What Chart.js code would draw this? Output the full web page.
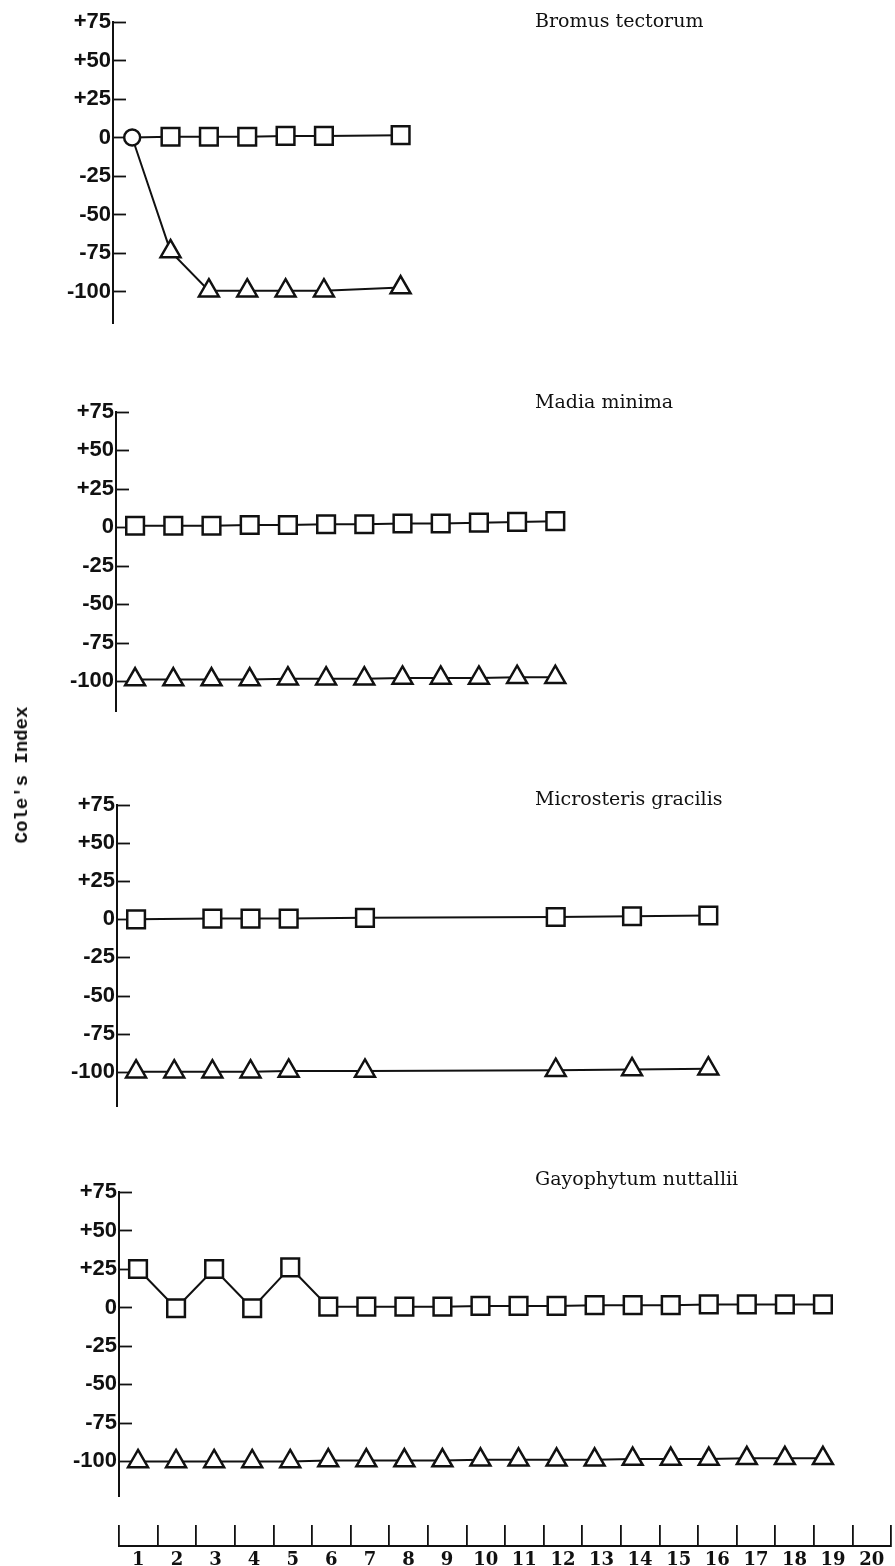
<!DOCTYPE html>
<html>
<head>
<meta charset="utf-8">
<title>Cole's Index</title>
<script src="https://cdn.jsdelivr.net/npm/chart.js@4.4.1/dist/chart.umd.min.js"></script>
<style>
    html, body { margin: 0; padding: 0; background: #fff; }
    #figure { position: relative; width: 895px; height: 1566px; overflow: hidden; background: #fff; }
    #figure canvas { position: absolute; left: 0; }
    #yTitle {
        position: absolute;
        left: 22px;
        top: 775px;
        transform: translate(-50%, -50%) rotate(-90deg);
        font: bold 19px 'Courier New', 'Liberation Mono', monospace;
        color: #111;
        white-space: nowrap;
    }
</style>
</head>
<body>
<div id="figure">
    <canvas id="panel0"></canvas>
    <canvas id="panel1"></canvas>
    <canvas id="panel2"></canvas>
    <canvas id="panel3"></canvas>
    <canvas id="periodAxis"></canvas>
    <div id="yTitle">Cole's Index</div>
</div>
<script>
var samplingPeriods = ['1', '2', '3', '4', '5', '6', '7', '8', '9', '10',
    '11', '12', '13', '14', '15', '16', '17', '18', '19', '20'];
var yTickValues = [75, 50, 25, 0, -25, -50, -75, -100];

var speciesNames = ['Bromus tectorum', 'Madia minima', 'Microsteris gracilis', 'Gayophytum nuttallii'];

// square-marker series (null = no sample in that period)
var bromusSquares = [0, 0.5, 0.5, 0.5, 1, 1, null, 1.5];
var madiaSquares = [1, 1, 1, 1.5, 1.5, 2, 2, 2.5, 2.5, 3, 3.5, 4];
var microsterisSquares = [0, null, 0.5, 0.5, 0.5, null, 1, null, null, null, null, 1.5, null, 2, null, 2.5];
var gayophytumSquares = [25, -0.5, 25, -0.5, 26, 0.5, 0.5, 0.5, 0.5, 1, 1, 1, 1.5, 1.5, 1.5, 2, 2, 2, 2];

// triangle-marker series
var bromusTriangles = [0, -74, -99.5, -99.5, -99.5, -99.5, null, -97.5];
var madiaTriangles = [-99, -99, -99, -99, -98.5, -98.5, -98.5, -98, -98, -98, -97.5, -97.5];
var microsterisTriangles = [-100, -100, -100, -100, -99.5, null, -99.5, null, null, null, null, -99, null, -98.5, null, -98];
var gayophytumTriangles = [-100, -100, -100, -100, -100, -99.5, -99.5, -99.5, -99.5, -99, -99, -99, -99,
    -98.5, -98.5, -98.5, -98, -98, -98];

(function (window) {
    'use strict';

    var ink = '#111';
    var plotRight = 891;
    var canvasWidth = 895;
    var yAxisWidth = 60;

    var panelLayout = [
        { top: 22, bottom: 325, axisX: 113, yMin: -121, titleDy: 0 },
        { top: 412, bottom: 713, axisX: 116, yMin: -120, titleDy: -9 },
        { top: 805, bottom: 1108, axisX: 117, yMin: -123, titleDy: -5 },
        { top: 1192, bottom: 1498, axisX: 119, yMin: -123, titleDy: -12 }
    ];

    var panelSeries = [
        { squares: bromusSquares, triangles: bromusTriangles, sharedStart: true },
        { squares: madiaSquares, triangles: madiaTriangles, sharedStart: false },
        { squares: microsterisSquares, triangles: microsterisTriangles, sharedStart: false },
        { squares: gayophytumSquares, triangles: gayophytumTriangles, sharedStart: false }
    ];

    // species name written near the top of each panel
    var panelTitlePlugin = {
        id: 'panelTitle',
        afterDraw: function (chart, args, opts) {
            var ctx = chart.ctx;
            ctx.save();
            ctx.font = opts.font;
            ctx.fillStyle = ink;
            ctx.textAlign = 'left';
            ctx.textBaseline = 'middle';
            ctx.fillText(opts.text, opts.x, chart.chartArea.top + opts.dy);
            ctx.restore();
        }
    };

    // tick marks pointing into the plot from the y axis
    var innerTicksPlugin = {
        id: 'innerTicks',
        beforeDatasetsDraw: function (chart, args, opts) {
            var yScale = chart.scales.y;
            var left = chart.chartArea.left;
            var ctx = chart.ctx;
            ctx.save();
            ctx.strokeStyle = ink;
            ctx.lineWidth = opts.width;
            yScale.ticks.forEach(function (tick) {
                var py = Math.round(yScale.getPixelForValue(tick.value)) + 0.5;
                ctx.beginPath();
                ctx.moveTo(left, py);
                ctx.lineTo(left + opts.length, py);
                ctx.stroke();
            });
            ctx.restore();
        }
    };

    function formatIndex(value) {
        return value > 0 ? '+' + value : String(value);
    }

    function buildDatasets(series) {
        function isStart(ctx) {
            return series.sharedStart && ctx.dataIndex === 0;
        }

        return [{
            label: 'squares',
            data: series.squares,
            borderColor: ink,
            borderWidth: 2,
            backgroundColor: '#fff',
            pointBackgroundColor: '#fff',
            pointBorderColor: ink,
            pointBorderWidth: 2.5,
            pointStyle: function (ctx) { return isStart(ctx) ? 'circle' : 'rect'; },
            pointRadius: function (ctx) { return isStart(ctx) ? 8 : 12.5; },
            tension: 0,
            spanGaps: true
        }, {
            label: 'triangles',
            data: series.triangles,
            borderColor: ink,
            borderWidth: 2,
            backgroundColor: '#fff',
            pointBackgroundColor: '#fff',
            pointBorderColor: ink,
            pointBorderWidth: 2.5,
            pointStyle: 'triangle',
            pointRadius: function (ctx) { return isStart(ctx) ? 0 : 11.5; },
            tension: 0,
            spanGaps: true
        }];
    }

    function createPanel(index) {
        var layout = panelLayout[index];
        var canvas = document.getElementById('panel' + index);
        var padTop = Math.min(layout.top, 30);
        var padBottom = 14;

        canvas.width = canvasWidth;
        canvas.height = layout.bottom - layout.top + padTop + padBottom;
        canvas.style.top = (layout.top - padTop) + 'px';

        return new Chart(canvas, {
            type: 'line',
            data: {
                labels: samplingPeriods,
                datasets: buildDatasets(panelSeries[index])
            },
            plugins: [innerTicksPlugin, panelTitlePlugin],
            options: {
                responsive: false,
                animation: false,
                events: [],
                layout: {
                    padding: {
                        top: padTop,
                        bottom: padBottom,
                        left: layout.axisX - yAxisWidth,
                        right: canvasWidth - plotRight
                    }
                },
                plugins: {
                    legend: { display: false },
                    tooltip: { enabled: false },
                    innerTicks: { length: 13, width: 1.8 },
                    panelTitle: {
                        text: speciesNames[index],
                        font: '19px "DejaVu Serif", serif',
                        x: 535,
                        dy: layout.titleDy
                    }
                },
                scales: {
                    x: {
                        type: 'category',
                        display: false,
                        offset: true
                    },
                    y: {
                        min: layout.yMin,
                        max: 75,
                        afterBuildTicks: function (scale) {
                            scale.ticks = yTickValues.map(function (v) { return { value: v }; });
                        },
                        afterFit: function (scale) {
                            scale.width = yAxisWidth;
                        },
                        grid: { display: false, drawTicks: false },
                        border: { display: true, color: ink, width: 2 },
                        ticks: {
                            padding: 2,
                            color: ink,
                            font: { family: '"Liberation Sans", Arial, sans-serif', size: 22, weight: 'bold' },
                            callback: function (value) { return formatIndex(value); }
                        }
                    }
                }
            }
        });
    }

    // shared sampling-period axis under the last panel
    function createPeriodAxis() {
        var canvas = document.getElementById('periodAxis');
        var axisLeft = 119;

        canvas.width = canvasWidth;
        canvas.height = 68;
        canvas.style.top = '1498px';

        return new Chart(canvas, {
            type: 'line',
            data: {
                labels: samplingPeriods,
                datasets: []
            },
            options: {
                responsive: false,
                animation: false,
                events: [],
                layout: {
                    padding: { top: 27, bottom: 0, left: axisLeft, right: canvasWidth - plotRight }
                },
                plugins: {
                    legend: { display: false },
                    tooltip: { enabled: false }
                },
                scales: {
                    x: {
                        type: 'category',
                        offset: true,
                        grid: {
                            display: true,
                            offset: true,
                            drawOnChartArea: true,
                            drawTicks: false,
                            color: ink,
                            lineWidth: 1.8
                        },
                        border: { display: true, color: ink, width: 2 },
                        ticks: {
                            autoSkip: false,
                            maxRotation: 0,
                            padding: 4,
                            color: ink,
                            font: { family: '"DejaVu Serif", serif', size: 18, weight: 'bold' }
                        }
                    },
                    y: { display: false, min: 0, max: 1 }
                }
            }
        });
    }

    for (var i = 0; i < panelLayout.length; i++) {
        createPanel(i);
    }
    createPeriodAxis();
})(window);
</script>
</body>
</html>
